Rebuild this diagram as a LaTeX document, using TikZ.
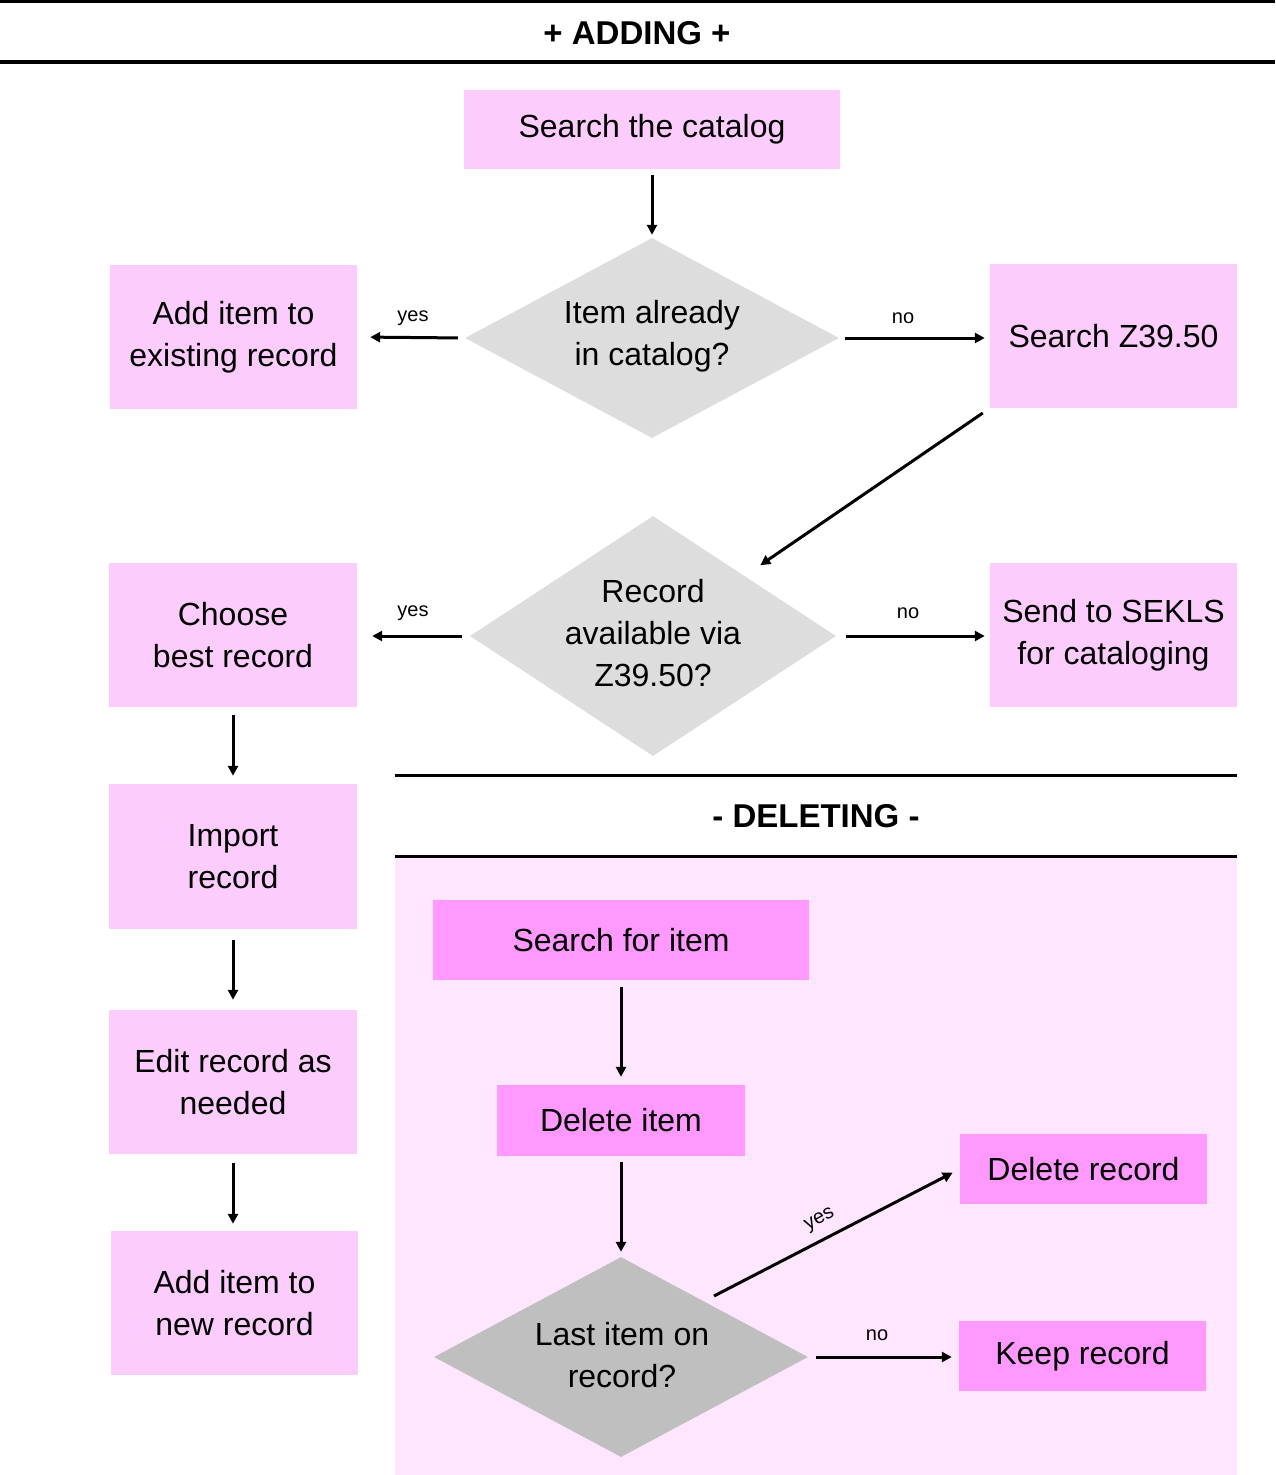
\documentclass[tikz,border=0pt]{standalone}
\usepackage{fontspec}
\setmainfont{Liberation Sans}
\usetikzlibrary{arrows.meta,shapes.geometric}
\definecolor{addpink}{RGB}{252,204,252}
\definecolor{delpink}{RGB}{255,153,255}
\definecolor{bgpink}{RGB}{255,230,255}
\definecolor{dia1}{RGB}{221,221,221}
\definecolor{dia3}{RGB}{191,191,191}
\tikzset{
  box/.style={rectangle, inner sep=0pt, fill=addpink, align=center,
    font=\fontsize{32}{42}\selectfont},
  delbox/.style={box, fill=delpink},
  dia/.style={diamond, inner sep=0pt, fill=dia1},
  diatext/.style={align=center, font=\fontsize{32}{42}\selectfont},
  arr/.style={line width=3pt, -{Triangle[length=10pt,width=10pt]}},
  lab/.style={font=\fontsize{20}{24}\selectfont},
  head/.style={font=\bfseries\fontsize{33}{40}\selectfont},
}
\begin{document}
\begin{tikzpicture}[x=1pt,y=-1pt]
\useasboundingbox (0,0) rectangle (1275,1475);
\fill[white] (0,0) rectangle (1275,1475);
% headers
\draw[line width=3pt] (0,1.5) -- (1275,1.5);
\node[head] (hadd) at (637,33) {+ ADDING +};
\draw[line width=4.5pt] (0,62) -- (1275,62);
\fill[bgpink] (395,857) rectangle (1237,1475);
\draw[line width=3pt] (395,775) -- (1237,775);
\node[head] (hdel) at (816,816) {- DELETING -};
\draw[line width=3pt] (395,856) -- (1237,856);
% adding nodes
\node[box, minimum width=376pt, minimum height=79pt] (scat) at (652,129.5) {Search the catalog};
\node[dia, minimum width=374pt, minimum height=200pt] (d1) at (652,338) {};
\node[diatext] (d1t) at (652,336) {Item already\\in catalog?};
\node[box, minimum width=247pt, minimum height=144pt] (addexist) at (233.5,337) {Add item to\\existing record};
\node[box, minimum width=247pt, minimum height=144pt] (sz) at (1113.5,336) {Search Z39.50};
\node[dia, minimum width=366pt, minimum height=240pt] (d2) at (653,636) {};
\node[diatext] (d2t) at (653,633) {Record\\available via\\Z39.50?};
\node[box, minimum width=248pt, minimum height=144pt] (choose) at (233,635) {Choose\\best record};
\node[box, minimum width=247pt, minimum height=144pt] (sekls) at (1113.5,635) {Send to SEKLS\\for cataloging};
\node[box, minimum width=248pt, minimum height=145pt] (import) at (233,856.5) {Import\\record};
\node[box, minimum width=248pt, minimum height=144pt] (edit) at (233,1082) {Edit record as\\needed};
\node[box, minimum width=247pt, minimum height=144pt] (addnew) at (234.5,1303) {Add item to\\new record};
% deleting nodes
\node[delbox, minimum width=376pt, minimum height=80pt] (sfi) at (621,940) {Search for item};
\node[delbox, minimum width=248pt, minimum height=71pt] (delitem) at (621,1120.5) {Delete item};
\node[dia, fill=dia3, minimum width=374pt, minimum height=200pt] (d3) at (621,1357) {};
\node[diatext] (d3t) at (622,1355) {Last item on\\record?};
\node[delbox, minimum width=247pt, minimum height=70pt] (delrec) at (1083.5,1169) {Delete record};
\node[delbox, minimum width=247pt, minimum height=70pt] (keep) at (1082.5,1356) {Keep record};
% connectors
\draw[arr, shorten <=6pt, shorten >=3pt] (scat.south) -- (d1.north);
\draw[arr, shorten <=7pt, shorten >=13pt] (d1.west) -- (addexist.east);
\node[lab] (l1) at (413,318) {yes};
\draw[arr, shorten <=6pt, shorten >=5pt] (d1.east) -- (sz.west |- d1.east);
\node[lab] (l2) at (903,318) {no};
\draw[arr, shorten <=8.5pt, shorten >=19pt] (sz.south west) -- (d2.north east);
\draw[arr, shorten <=8pt, shorten >=15pt] (d2.west) -- (choose.east |- d2.west);
\node[lab] (l3) at (413,613) {yes};
\draw[arr, shorten <=10pt, shorten >=5pt] (d2.east) -- (sekls.west |- d2.east);
\node[lab] (l4) at (908,613) {no};
\draw[arr, shorten <=8pt, shorten >=8pt] (choose.south) -- (import.north);
\draw[arr, shorten <=11pt, shorten >=10pt] (import.south) -- (edit.north);
\draw[arr, shorten <=9pt, shorten >=7pt] (edit.south) -- (addnew.north -| edit.south);
\draw[arr, shorten <=7pt, shorten >=8pt] (sfi.south) -- (delitem.north);
\draw[arr, shorten <=6pt, shorten >=5pt] (delitem.south) -- (d3.north);
\coordinate (ystart) at (714,1296);
\draw[arr, shorten >=8pt] (ystart) -- (delrec.west);
\node[lab, rotate=27.7] (l5) at (820,1220) {yes};
\draw[arr, shorten <=8pt, shorten >=7pt] (d3.east) -- (keep.west |- d3.east);
\node[lab] (l6) at (877,1335) {no};
\end{tikzpicture}
\end{document}
